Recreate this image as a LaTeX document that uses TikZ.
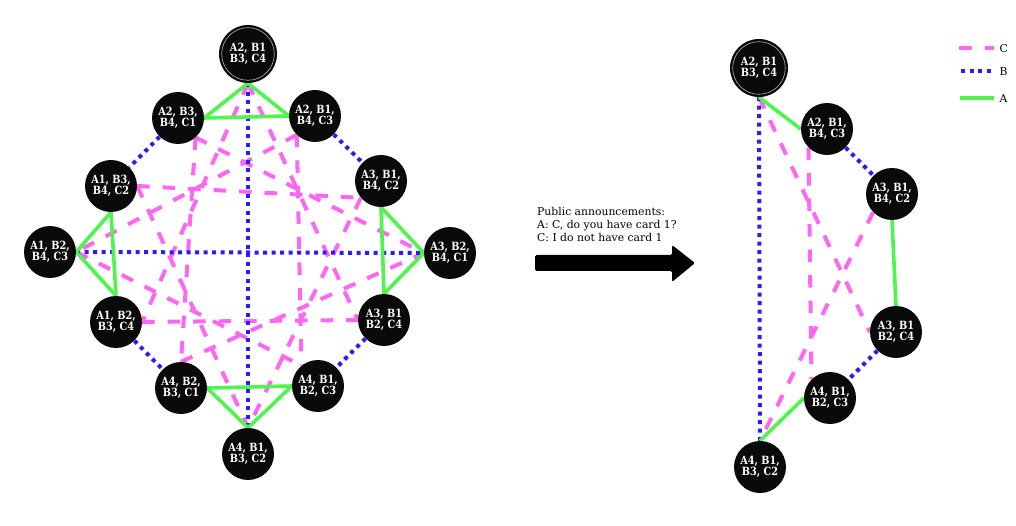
\documentclass[tikz,border=0pt]{standalone}
\usepackage{fontspec}
\setmainfont{DejaVu Serif}
\newfontfamily\nodefont[FakeStretch=0.86]{DejaVu Serif}
\definecolor{cA}{RGB}{77,245,77}
\definecolor{cB}{RGB}{40,30,245}
\definecolor{cC}{RGB}{255,102,242}
\pgfdeclarelayer{bg}
\pgfdeclarelayer{edges}
\pgfsetlayers{bg,edges,main}
\tikzset{
  world/.style={circle,fill=black!96,text=white,inner sep=0pt,minimum size=52pt,
    align=center,font=\nodefont\bfseries\fontsize{11.3}{10.8}\selectfont},
  actual/.style={world,minimum size=58pt},
  edgeA/.style={cA,line width=3.6pt},
  edgeB/.style={cB,line width=4pt,dash pattern=on 4pt off 4.5pt},
  edgeC/.style={cC,line width=4pt,dash pattern=on 12.5pt off 13pt},
  txt/.style={inner sep=0pt,font=\fontsize{10.8}{13}\selectfont},
}
\begin{document}
\begin{tikzpicture}[x=1pt,y=-1pt]
\begin{pgfonlayer}{bg}
\fill[white] (0,0) rectangle (1016,526);
\end{pgfonlayer}
\useasboundingbox (0,0) rectangle (1016,526);
% left model
\node[actual] (l1) at (248,54) {A2, B1\\B3, C4};
\node[world] (l2) at (178,118) {A2, B3,\\B4, C1};
\node[world] (l3) at (315,116) {A2, B1,\\B4, C3};
\node[world] (l4) at (111,186) {A1, B3,\\B4, C2};
\node[world] (l5) at (381,181) {A3, B1,\\B4, C2};
\node[world] (l6) at (50,252) {A1, B2,\\B4, C3};
\node[world] (l7) at (450,253) {A3, B2,\\B4, C1};
\node[world] (l8) at (116,322) {A1, B2,\\B3, C4};
\node[world] (l9) at (384,320) {A3, B1\\B2, C4};
\node[world] (l10) at (181,388) {A4, B2,\\B3, C1};
\node[world] (l11) at (318,386) {A4, B1,\\B2, C3};
\node[world] (l12) at (248,454) {A4, B1,\\B3, C2};
\draw[black!30!white,line width=0.6pt] (l1.center) circle (26.3pt);
% right model
\node[actual] (r1) at (759,68) {A2, B1\\B3, C4};
\node[world] (r2) at (827,129) {A2, B1,\\B4, C3};
\node[world] (r3) at (892,194) {A3, B1,\\B4, C2};
\node[world] (r4) at (896,332) {A3, B1\\B2, C4};
\node[world] (r5) at (830,398) {A4, B1,\\B2, C3};
\node[world] (r6) at (760,467) {A4, B1,\\B3, C2};
\draw[black!30!white,line width=0.6pt] (r1.center) circle (26.3pt);
\begin{pgfonlayer}{edges}
% C edges
\draw[edgeC] (l2.-48) -- (l7.west);
\draw[edgeC] (l2.-48) -- (l10.north);
\draw[edgeC] (l10.north) -- (l7.west);
\draw[edgeC] (l4.east) -- (l5.220);
\draw[edgeC] (l4.east) -- (l12.north);
\draw[edgeC] (l5.220) -- (l12.north);
\draw[edgeC] (l3.226) -- (l6.east);
\draw[edgeC] (l3.226) -- (l11.129);
\draw[edgeC] (l6.east) -- (l11.129);
\draw[edgeC] (l1.south) -- (l8.east);
\draw[edgeC] (l1.south) -- (l9.west);
\draw[edgeC] (l8.east) -- (l9.west);
\draw[edgeC] (r1.south) -- (r4.west);
\draw[edgeC] (r2.225) -- (r5.135);
\draw[edgeC] (r3.224) -- (r6.north);
% B edges
\draw[edgeB] (l1.south) -- (l12.north);
\draw[edgeB] (l6.east) -- (l7.west);
\draw[edgeB] (l2) -- (l4);
\draw[edgeB] (l3) -- (l5);
\draw[edgeB] (l8) -- (l10);
\draw[edgeB] (l9) -- (l11);
\draw[edgeB] (r1.south) -- (r6.north);
\draw[edgeB] (r2) -- (r3);
\draw[edgeB] (r4) -- (r5);
% A edges
\draw[edgeA] (l1.south) -- (l2.east);
\draw[edgeA] (l1.south) -- (l3.west);
\draw[edgeA] (l2.east) -- (l3.west);
\draw[edgeA] (l4.south) -- (l6.east);
\draw[edgeA] (l4.south) -- (l8.north);
\draw[edgeA] (l6.east) -- (l8.north);
\draw[edgeA] (l5.south) -- (l7.west);
\draw[edgeA] (l5.south) -- (l9.north);
\draw[edgeA] (l7.west) -- (l9.north);
\draw[edgeA] (l10.east) -- (l11.west);
\draw[edgeA] (l10.east) -- (l12.north);
\draw[edgeA] (l11.west) -- (l12.north);
\draw[edgeA] (r1.south) -- (r2.west);
\draw[edgeA] (r3.south) -- (r4.north);
\draw[edgeA] (r5.west) -- (r6.north);
\end{pgfonlayer}
% announcement
\node[txt,anchor=base west] (ann1) at (537,215.5) {Public announcements:};
\node[txt,anchor=base west] (ann2) at (537,228.7) {A: C, do you have card 1?};
\node[txt,anchor=base west] (ann3) at (537,241.8) {C: I do not have card 1};
\fill[black,rounded corners=1.5pt] (535,255) -- (672,255) -- (672,245) -- (695,263)
  -- (672,282) -- (672,271) -- (535,271) -- cycle;
% legend
\coordinate (lc1) at (959,48);  \coordinate (lc2) at (994,48);
\coordinate (lb1) at (961,71.5);  \coordinate (lb2) at (994,71.5);
\coordinate (la1) at (960,98); \coordinate (la2) at (993.5,98);
\draw[edgeC,dash pattern=on 13pt off 13pt] (lc1) -- (lc2);
\draw[edgeB] (lb1) -- (lb2);
\draw[edgeA] (la1) -- (la2);
\node[txt,anchor=west] (legC) at (999.5,49) {C};
\node[txt,anchor=west] (legB) at (999.5,72) {B};
\node[txt,anchor=west] (legA) at (999.5,98.5) {A};
\end{tikzpicture}
\end{document}
